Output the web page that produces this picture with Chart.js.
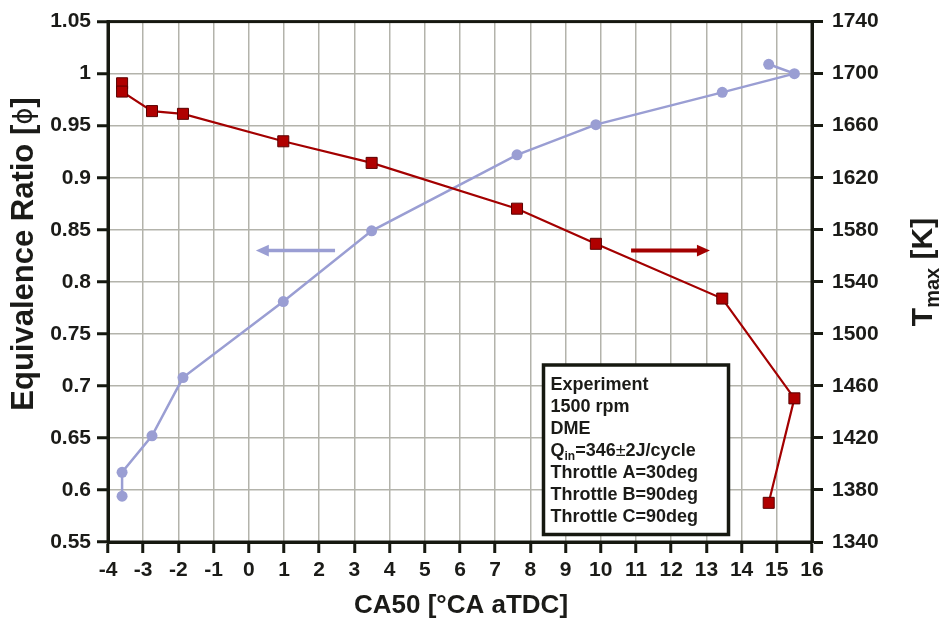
<!DOCTYPE html>
<html>
<head>
<meta charset="utf-8">
<script src="https://cdn.jsdelivr.net/npm/chart.js@4/dist/chart.umd.min.js"></script>
<style>
  html, body { margin: 0; padding: 0; background: #ffffff; }
  #wrap { width: 940px; height: 622px; }
</style>
</head>
<body>
<div id="wrap"><canvas id="c" width="940" height="622"></canvas></div>
<script>
// CA50 [°CA aTDC] for each operating point
const ca50 = [-3.6, -3.6, -2.75, -1.87, 0.98, 3.49, 7.62, 9.86, 13.45, 15.5, 14.77];
// Equivalence ratio (left axis)
const phi = [0.594, 0.617, 0.652, 0.708, 0.781, 0.849, 0.922, 0.951, 0.982, 1.0, 1.009];
// Peak in-cylinder temperature (right axis)
const ca50T = [-3.6, -3.6, -2.75, -1.87, 0.98, 3.49, 7.62, 9.86, 13.45, 15.5, 14.77];
const tmax = [1692.6, 1686.2, 1671.2, 1669.1, 1648.0, 1631.4, 1596.2, 1569.2, 1527.1, 1450.4, 1370.1];

// Axis ranges and ticks
const xRange = [-4, 16], xStep = 1;
const phiRange = [0.55, 1.05], phiStep = 0.05;
const tRange = [1340, 1740], tStep = 40;

// Arrows pointing each curve to its axis (data coordinates)
const phiArrow = { from: 2.45, to: 0.2, at: 0.83 };
const tArrow = { from: 10.86, to: 13.1, at: 1564 };

// Notes shown in the box
const noteLines = ['Experiment', '1500 rpm', 'DME', 'Q|in|=346±2J/cycle', 'Throttle A=30deg', 'Throttle B=90deg', 'Throttle C=90deg'];

const FONT = '"Liberation Sans", Arial, Helvetica, sans-serif';
const INK = '#1b1b18';
const AXIS = '#161810';
const GRID = '#b3b3ab';
const BLUE = '#9a9ed3';
const RED = '#a30000';

const framePlugin = {
  id: 'frame',
  afterDatasetsDraw(chart) {
    const { ctx, scales } = chart;
    ctx.save();
    const arrow = (x0, x1, y, color, w, head) => {
      const dir = Math.sign(x1 - x0);
      ctx.strokeStyle = color; ctx.fillStyle = color; ctx.lineWidth = w;
      ctx.beginPath(); ctx.moveTo(x0, y); ctx.lineTo(x1 - dir * head * 0.8, y); ctx.stroke();
      ctx.beginPath();
      ctx.moveTo(x1, y);
      ctx.lineTo(x1 - dir * head, y - head * 0.45);
      ctx.lineTo(x1 - dir * head, y + head * 0.45);
      ctx.closePath(); ctx.fill();
    };
    arrow(scales.x.getPixelForValue(phiArrow.from), scales.x.getPixelForValue(phiArrow.to),
          scales.y.getPixelForValue(phiArrow.at), BLUE, 3.5, 13);
    arrow(scales.x.getPixelForValue(tArrow.from), scales.x.getPixelForValue(tArrow.to),
          scales.y2.getPixelForValue(tArrow.at), RED, 4, 13);
    ctx.restore();
  },
  afterDraw(chart) {
    const { ctx, chartArea: a } = chart;
    ctx.save();
    // outer frame of the plot area
    ctx.strokeStyle = AXIS; ctx.lineWidth = 3;
    ctx.strokeRect(a.left, a.top, a.right - a.left, a.bottom - a.top);

    // note box
    const bx = 543.5, by = 365, bw = 185, bh = 169.5;
    ctx.fillStyle = '#ffffff';
    ctx.fillRect(bx, by, bw, bh);
    ctx.lineWidth = 3.5; ctx.strokeStyle = AXIS;
    ctx.strokeRect(bx, by, bw, bh);
    ctx.fillStyle = INK; ctx.textBaseline = 'alphabetic'; ctx.textAlign = 'left';
    noteLines.forEach((line, i) => {
      const y = by + 25 + i * 22;
      let x = bx + 7;
      if (line.includes('|')) {
        const [main, sub, rest] = line.split('|');
        ctx.font = 'bold 18px ' + FONT;
        ctx.fillText(main, x, y); x += ctx.measureText(main).width;
        ctx.font = 'bold 12px ' + FONT;
        ctx.fillText(sub, x, y + 4); x += ctx.measureText(sub).width;
        const pm = rest.indexOf('±');
        const a1 = rest.slice(0, pm), a2 = rest.slice(pm + 1);
        ctx.font = 'bold 18px ' + FONT;
        ctx.fillText(a1, x, y); x += ctx.measureText(a1).width;
        ctx.font = '18px ' + FONT;
        ctx.fillText('±', x, y); x += ctx.measureText('±').width;
        ctx.font = 'bold 18px ' + FONT;
        ctx.fillText(a2, x, y);
      } else {
        ctx.font = 'bold 18px ' + FONT;
        ctx.fillText(line, x, y);
      }
    });

    // axis titles
    ctx.fillStyle = INK;
    ctx.font = 'bold 26px ' + FONT;
    ctx.textAlign = 'center';
    ctx.fillText('CA50 [°CA aTDC]', (a.left + a.right) / 2 + 1, 613);

    // left title, with a straight-stroke phi
    ctx.save();
    ctx.font = 'bold 31px ' + FONT;
    const s1 = 'Equivalence Ratio [', s3 = ']';
    const w1 = ctx.measureText(s1).width, w3 = ctx.measureText(s3).width;
    ctx.font = '26px "DejaVu Sans", sans-serif';
    const w2 = ctx.measureText('\u03d5').width;
    const tot = w1 + w2 + w3;
    ctx.translate(33, 254 + tot / 2);
    ctx.rotate(-Math.PI / 2);
    ctx.textAlign = 'left';
    ctx.font = 'bold 31px ' + FONT;
    ctx.fillText(s1, 0, 0);
    ctx.font = '26px "DejaVu Sans", sans-serif';
    ctx.fillText('\u03d5', w1, -1);
    ctx.font = 'bold 31px ' + FONT;
    ctx.fillText(s3, w1 + w2, 0);
    ctx.restore();

    // right title T_max [K]
    ctx.save();
    ctx.font = 'bold 30px ' + FONT;
    const wT = ctx.measureText('T').width;
    const wK = ctx.measureText(' [K]').width;
    ctx.font = 'bold 20px ' + FONT;
    const wM = ctx.measureText('max').width;
    const total = wT + wM + wK;
    ctx.translate(932, 272 + total / 2);
    ctx.rotate(-Math.PI / 2);
    ctx.textAlign = 'left';
    ctx.font = 'bold 30px ' + FONT;
    ctx.fillText('T', 0, 0);
    ctx.font = 'bold 20px ' + FONT;
    ctx.fillText('max', wT, 7);
    ctx.font = 'bold 30px ' + FONT;
    ctx.fillText(' [K]', wT + wM, 0);
    ctx.restore();

    ctx.restore();
  }
};

const tickFont = { family: FONT, size: 21, weight: 'bold' };

new Chart(document.getElementById('c'), {
  type: 'line',
  data: {
    datasets: [
      {
        label: 'Tmax',
        data: ca50T.map((x, i) => ({ x, y: tmax[i] })),
        yAxisID: 'y2',
        borderColor: RED,
        backgroundColor: '#b00000',
        borderWidth: 2.2,
        pointStyle: 'rect',
        pointRadius: 7.8,
        pointBorderColor: '#5a0000',
        pointBorderWidth: 1,
        pointBackgroundColor: '#b00000',
        tension: 0
      },
      {
        label: 'phi',
        data: ca50.map((x, i) => ({ x, y: phi[i] })),
        yAxisID: 'y',
        borderColor: BLUE,
        backgroundColor: BLUE,
        borderWidth: 2.5,
        pointStyle: 'circle',
        pointRadius: 5.5,
        pointBorderWidth: 0,
        pointBackgroundColor: BLUE,
        tension: 0
      }
    ]
  },
  options: {
    responsive: false,
    animation: false,
    devicePixelRatio: 1,
    layout: { padding: { top: 19, left: 0, right: 0, bottom: 0 } },
    plugins: { legend: { display: false }, tooltip: { enabled: false } },
    scales: {
      x: {
        type: 'linear',
        min: xRange[0], max: xRange[1],
        afterFit: s => { s.height = 80; },
        ticks: { stepSize: xStep, color: INK, font: tickFont, padding: 5, maxRotation: 0, autoSkip: false },
        grid: { color: GRID, lineWidth: 1.5, tickColor: AXIS, tickLength: 11, tickWidth: 3 },
        border: { color: AXIS, width: 3 }
      },
      y: {
        type: 'linear', position: 'left',
        min: phiRange[0], max: phiRange[1],
        afterFit: s => { s.width = 108; },
        ticks: {
          stepSize: phiStep, color: INK, font: tickFont, padding: 6, autoSkip: false,
          callback: v => String(Number(v.toFixed(2)))
        },
        grid: { color: GRID, lineWidth: 1.5, tickColor: AXIS, tickLength: 11, tickWidth: 3 },
        border: { color: AXIS, width: 3 }
      },
      y2: {
        type: 'linear', position: 'right',
        min: tRange[0], max: tRange[1],
        afterFit: s => { s.width = 128; },
        ticks: {
          stepSize: tStep, color: INK, font: tickFont, padding: 9, autoSkip: false,
          callback: v => String(Math.round(v))
        },
        grid: { drawOnChartArea: false, tickColor: AXIS, tickLength: 11, tickWidth: 3 },
        border: { color: AXIS, width: 3 }
      }
    }
  },
  plugins: [framePlugin]
});
</script>
</body>
</html>
